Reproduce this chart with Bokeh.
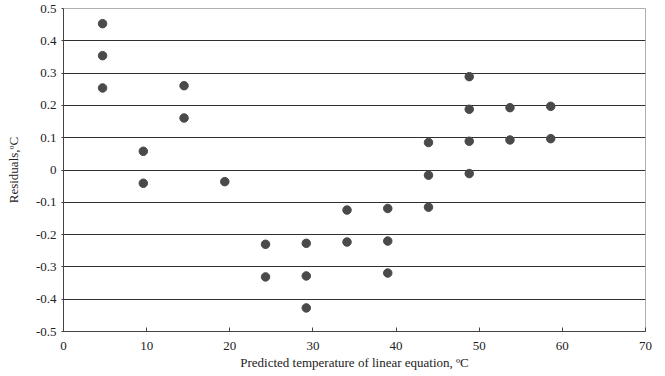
from bokeh.plotting import figure
from bokeh.models import Range1d, FixedTicker
from bokeh.embed import file_html
from bokeh.resources import INLINE

# Predicted temperature (x) and residuals (y)
pred_temp = [4.7, 4.7, 4.7,
             9.6, 9.6,
             14.5, 14.5,
             19.4,
             24.3, 24.3,
             29.2, 29.2, 29.2,
             34.1, 34.1,
             39.0, 39.0, 39.0,
             43.9, 43.9, 43.9,
             48.8, 48.8, 48.8, 48.8,
             53.7, 53.7,
             58.6, 58.6]
residuals = [0.453, 0.354, 0.254,
             0.058, -0.041,
             0.261, 0.161,
             -0.036,
             -0.230, -0.331,
             -0.227, -0.328, -0.427,
             -0.124, -0.223,
             -0.119, -0.220, -0.319,
             0.085, -0.016, -0.115,
             0.289, 0.188, 0.089, -0.011,
             0.193, 0.093,
             0.197, 0.097]

x_ticks = [0, 10, 20, 30, 40, 50, 60, 70]
y_ticks = [-0.5, -0.4, -0.3, -0.2, -0.1, 0, 0.1, 0.2, 0.3, 0.4, 0.5]
y_tick_labels = {-0.5: "-0.5", -0.4: "-0.4", -0.3: "-0.3", -0.2: "-0.2", -0.1: "-0.1",
                 0: "0", 0.1: "0.1", 0.2: "0.2", 0.3: "0.3", 0.4: "0.4", 0.5: "0.5"}

FONT = "Liberation Serif"

p = figure(width=665, height=376, output_backend="svg", toolbar_location=None,
           x_range=Range1d(0, 70), y_range=Range1d(-0.5, 0.5),
           min_border_left=63, min_border_right=20, min_border_top=8, min_border_bottom=45)

p.background_fill_color = "white"
p.border_fill_color = "white"
p.outline_line_color = "#b0b0b0"
p.outline_line_width = 1

p.xgrid.grid_line_color = None
p.ygrid.grid_line_color = "#303030"
p.ygrid.grid_line_width = 1
p.ygrid.ticker = FixedTicker(ticks=y_ticks)

p.scatter(pred_temp, residuals, size=8.5, color="#4a4a4a", line_color="#4a4a4a")

xa = p.xaxis[0]
xa.ticker = FixedTicker(ticks=x_ticks)
xa.axis_label = "Predicted temperature of linear equation, ºC"
xa.axis_label_text_font = FONT
xa.axis_label_text_font_size = "13px"
xa.axis_label_text_font_style = "normal"
xa.axis_label_text_color = "#222222"
xa.axis_label_standoff = 2
xa.major_label_text_font = FONT
xa.major_label_text_font_size = "13px"
xa.major_label_text_color = "#222222"
xa.major_label_standoff = 10
xa.major_tick_in = 4
xa.major_tick_out = 0
xa.minor_tick_line_color = None
xa.axis_line_color = "#444444"
xa.major_tick_line_color = "#444444"

ya = p.yaxis[0]
ya.ticker = FixedTicker(ticks=y_ticks)
ya.major_label_overrides = y_tick_labels
ya.axis_label = "Residuals,ºC"
ya.axis_label_text_font = FONT
ya.axis_label_text_font_size = "13px"
ya.axis_label_text_font_style = "normal"
ya.axis_label_text_color = "#222222"
ya.axis_label_standoff = 12
ya.major_label_text_font = FONT
ya.major_label_text_font_size = "13px"
ya.major_label_text_color = "#222222"
ya.major_label_standoff = 5
ya.major_tick_in = 0
ya.major_tick_out = 2
ya.minor_tick_line_color = None
ya.axis_line_color = "#444444"
ya.major_tick_line_color = "#444444"

open("out.html", "w").write(file_html(p, INLINE))
